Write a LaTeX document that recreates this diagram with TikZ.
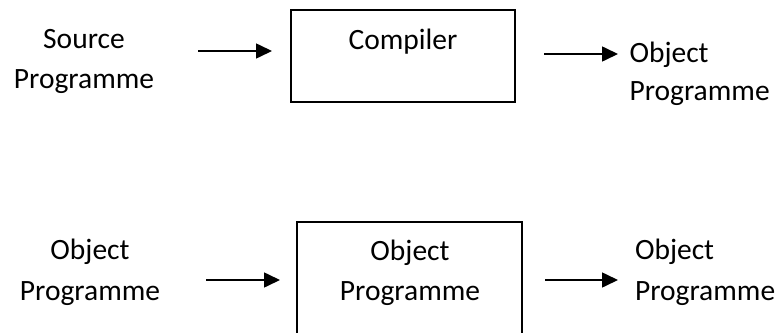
\documentclass[tikz,border=0pt]{standalone}
\usepackage{fontspec}
\setmainfont{Carlito}
\usetikzlibrary{arrows.meta}
\begin{document}
\begin{tikzpicture}[x=1pt,y=-1pt,
  lbl/.style={inner sep=0pt, outer sep=0pt, font=\fontsize{29.5}{40}\selectfont},
  boxnode/.style={draw=black, line width=1.8pt, inner sep=0pt, fill=none},
  flow/.style={line width=1.6pt, -{Triangle[length=16pt,width=15pt]}}]
\useasboundingbox (0,0) rectangle (781,332);
% ---- top row ----
\node[lbl, anchor=base] (srcA) at (84,48) {Source};
\node[lbl, anchor=base] (srcB) at (84,88) {Programme};
\coordinate (a1s) at (198,51);
\coordinate (a1e) at (272,51);
\draw[flow] (a1s) -- (a1e);
\node[boxnode, minimum width=224pt, minimum height=92pt] (cbox) at (403,56) {};
\node[lbl, anchor=base] (ctext) at (403,49) {Compiler};
\coordinate (a2s) at (544,54);
\coordinate (a2e) at (618,54);
\draw[flow] (a2s) -- (a2e);
\node[lbl, anchor=base west] (objA) at (629.5,62) {Object};
\node[lbl, anchor=base west] (objB) at (629.5,100) {Programme};
% ---- bottom row ----
\node[lbl, anchor=base] (inA) at (90,259) {Object};
\node[lbl, anchor=base] (inB) at (90,300) {Programme};
\coordinate (a3s) at (206,280);
\coordinate (a3e) at (280,280);
\draw[flow] (a3s) -- (a3e);
\node[boxnode, minimum width=225pt, minimum height=130pt, anchor=north] (obox) at (409.5,221) {};
\node[lbl, anchor=base] (boxA) at (410,260) {Object};
\node[lbl, anchor=base] (boxB) at (410,300) {Programme};
\coordinate (a4s) at (545,280);
\coordinate (a4e) at (618,280);
\draw[flow] (a4s) -- (a4e);
\node[lbl, anchor=base west] (outA) at (635,259) {Object};
\node[lbl, anchor=base west] (outB) at (635,300) {Programme};
\end{tikzpicture}
\end{document}
